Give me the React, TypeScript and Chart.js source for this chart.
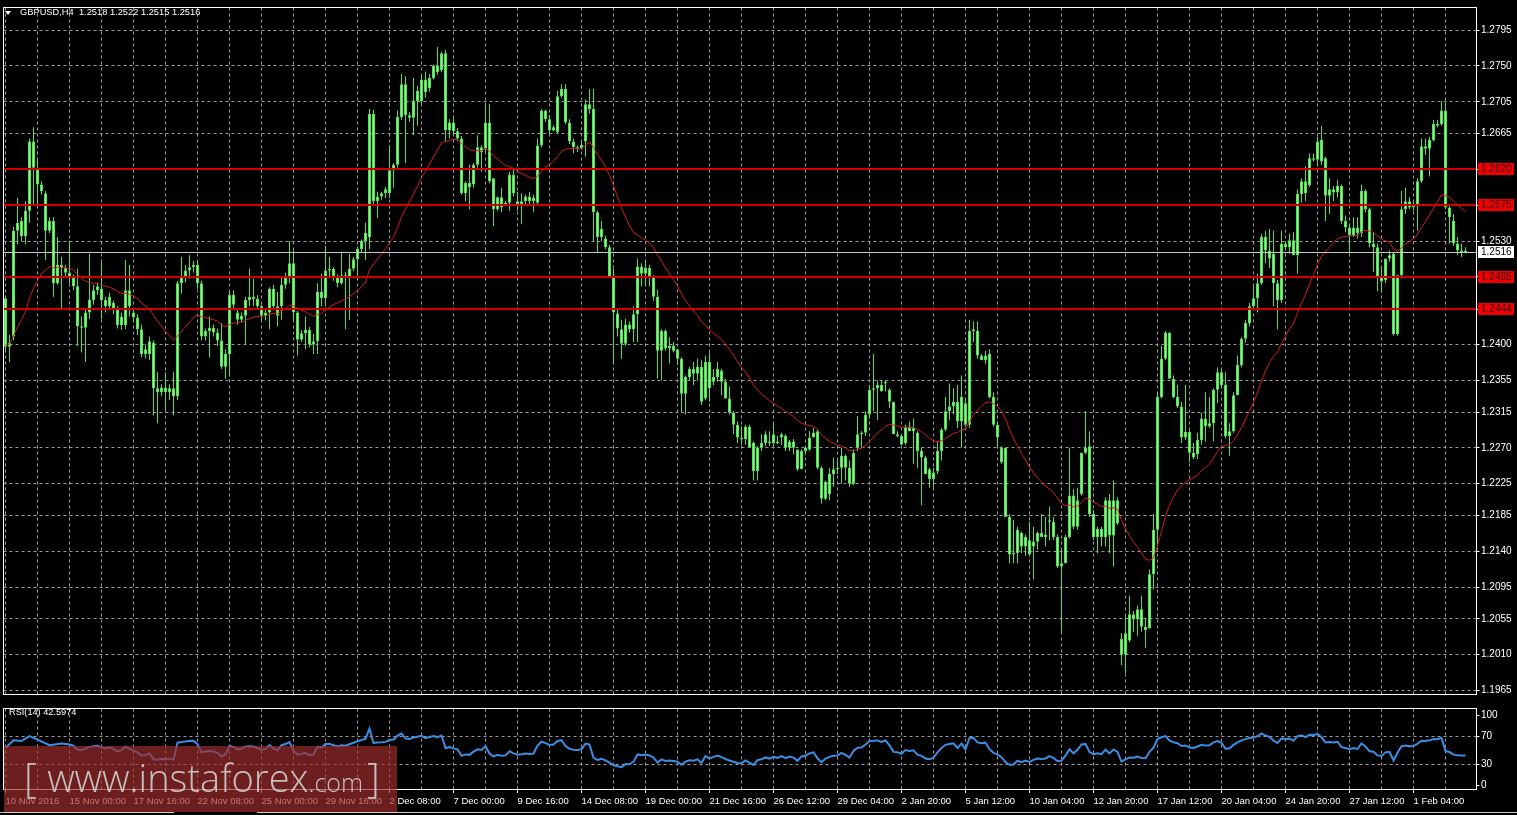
import React, { useEffect, useRef } from 'react';
import { Chart, registerables } from 'chart.js';

Chart.register(...registerables);

// ---------- data (prices in 1/10000, e.g. 12516 = 1.2516) ----------
const timeLabels = [
  '10 Nov 2016', '15 Nov 00:00', '17 Nov 16:00', '22 Nov 08:00', '25 Nov 00:00', '29 Nov 16:00',
  '2 Dec 08:00', '7 Dec 00:00', '9 Dec 16:00', '14 Dec 08:00', '19 Dec 00:00', '21 Dec 16:00',
  '26 Dec 12:00', '29 Dec 04:00', '2 Jan 20:00', '5 Jan 12:00', '10 Jan 04:00', '12 Jan 20:00',
  '17 Jan 12:00', '20 Jan 04:00', '24 Jan 20:00', '27 Jan 12:00', '1 Feb 04:00',
];

const opens = [
  12458,12397,12410,12543,12555,12536,12568,12655,12622,12601,
  12590,12543,12555,12477,12500,12496,12490,12484,12473,12423,
  12421,12440,12456,12468,12470,12456,12448,12452,12445,12424,
  12424,12468,12440,12434,12419,12388,12388,12402,12345,12340,
  12346,12340,12345,12335,12477,12485,12493,12497,12500,12477,
  12410,12417,12421,12415,12405,12372,12388,12462,12440,12431,
  12436,12456,12460,12457,12448,12436,12440,12470,12448,12448,
  12475,12485,12502,12440,12406,12414,12418,12400,12404,12466,
  12458,12493,12495,12485,12477,12487,12484,12495,12507,12520,
  12530,12535,12690,12580,12586,12590,12590,12619,12626,12686,
  12727,12688,12685,12706,12706,12733,12722,12735,12750,12745,
  12766,12669,12679,12668,12659,12590,12603,12601,12626,12648,
  12646,12679,12609,12570,12585,12578,12578,12613,12580,12576,
  12580,12586,12580,12578,12650,12694,12683,12669,12667,12712,
  12721,12679,12655,12648,12646,12655,12702,12696,12566,12535,
  12533,12522,12485,12439,12419,12401,12425,12419,12438,12498,
  12489,12496,12485,12460,12392,12417,12395,12398,12394,12382,
  12338,12359,12369,12363,12372,12332,12378,12353,12359,12367,
  12353,12332,12314,12299,12283,12281,12297,12276,12241,12270,
  12276,12278,12276,12278,12283,12285,12270,12278,12268,12243,
  12266,12268,12283,12291,12245,12206,12212,12237,12243,12245,
  12260,12245,12225,12270,12287,12289,12312,12343,12345,12349,
  12351,12343,12328,12287,12285,12276,12297,12291,12289,12266,
  12258,12243,12231,12241,12266,12293,12316,12322,12328,12303,
  12326,12299,12417,12417,12386,12380,12388,12334,12299,12270,
  12270,12183,12136,12138,12163,12146,12154,12146,12152,12163,
  12158,12179,12177,12158,12121,12125,12158,12210,12171,12212,
  12264,12272,12187,12158,12168,12158,12204,12160,12204,12030,
  12010,12028,12061,12055,12067,12045,12043,12111,12167,12334,
  12382,12415,12357,12334,12322,12283,12290,12264,12262,12280,
  12307,12297,12301,12343,12365,12349,12285,12291,12336,12374,
  12407,12427,12448,12458,12477,12535,12518,12514,12477,12456,
  12527,12522,12531,12512,12589,12605,12600,12634,12632,12657,
  12634,12587,12595,12591,12599,12555,12547,12537,12547,12540,
  12593,12570,12527,12522,12485,12481,12508,12514,12413,12487,
  12570,12580,12572,12574,12605,12649,12646,12657,12677,12677,
  12694,12572,12555,12527,12518,12518,
];

const highs = [
  12460,12412,12548,12584,12560,12580,12659,12673,12634,12605,
  12593,12560,12560,12535,12510,12500,12530,12488,12495,12435,
  12444,12514,12475,12478,12504,12460,12465,12455,12448,12440,
  12506,12500,12445,12438,12425,12400,12410,12405,12365,12350,
  12365,12350,12365,12480,12510,12500,12512,12505,12506,12480,
  12420,12435,12425,12420,12427,12394,12466,12468,12445,12440,
  12460,12495,12483,12462,12450,12445,12472,12475,12466,12485,
  12490,12530,12518,12442,12418,12435,12422,12413,12477,12489,
  12524,12510,12497,12488,12516,12491,12514,12510,12523,12532,
  12553,12696,12695,12592,12592,12598,12650,12628,12694,12740,
  12737,12692,12735,12725,12738,12743,12740,12752,12774,12768,
  12770,12683,12684,12672,12662,12605,12626,12628,12663,12650,
  12704,12702,12609,12586,12597,12580,12617,12622,12592,12590,
  12588,12592,12588,12659,12696,12695,12688,12675,12719,12727,
  12727,12683,12659,12650,12655,12708,12721,12721,12568,12555,
  12537,12525,12495,12445,12431,12432,12429,12448,12508,12502,
  12506,12500,12487,12469,12419,12419,12409,12403,12394,12384,
  12361,12372,12378,12382,12380,12386,12390,12369,12378,12369,
  12357,12347,12316,12303,12297,12299,12299,12278,12272,12287,
  12291,12291,12303,12285,12289,12287,12280,12281,12268,12268,
  12272,12291,12295,12293,12247,12229,12245,12258,12254,12270,
  12262,12254,12268,12310,12291,12316,12349,12388,12355,12355,
  12355,12345,12328,12291,12285,12299,12303,12307,12291,12270,
  12260,12245,12245,12278,12295,12334,12351,12345,12349,12361,
  12332,12431,12429,12429,12388,12392,12394,12340,12303,12272,
  12270,12187,12179,12171,12165,12161,12177,12171,12165,12187,
  12183,12196,12183,12161,12142,12161,12270,12218,12220,12264,
  12316,12291,12192,12171,12171,12208,12212,12229,12208,12037,
  12059,12084,12065,12072,12084,12055,12117,12187,12340,12398,
  12417,12415,12361,12349,12328,12349,12292,12276,12289,12314,
  12340,12334,12345,12371,12369,12365,12301,12340,12386,12409,
  12431,12452,12473,12489,12539,12543,12545,12543,12481,12543,
  12529,12539,12541,12595,12609,12624,12640,12640,12661,12675,
  12636,12609,12599,12607,12601,12562,12549,12560,12560,12601,
  12595,12572,12541,12527,12496,12508,12518,12516,12487,12593,
  12597,12585,12580,12609,12659,12659,12661,12682,12682,12706,
  12704,12574,12564,12535,12527,12522,
];

const lows = [
  12392,12378,12405,12526,12530,12526,12553,12576,12576,12588,
  12506,12540,12460,12475,12444,12485,12477,12468,12398,12390,
  12378,12432,12450,12462,12432,12440,12444,12438,12420,12418,
  12419,12435,12428,12412,12384,12382,12380,12311,12301,12335,
  12318,12330,12311,12330,12464,12478,12483,12490,12470,12405,
  12405,12384,12410,12398,12369,12357,12360,12445,12425,12428,
  12400,12448,12448,12444,12430,12430,12419,12445,12423,12431,
  12470,12477,12431,12386,12403,12394,12396,12388,12388,12448,
  12448,12485,12480,12472,12475,12419,12431,12492,12485,12515,
  12506,12520,12575,12559,12582,12584,12584,12597,12622,12682,
  12628,12680,12663,12675,12702,12710,12718,12733,12739,12742,
  12655,12659,12664,12656,12588,12580,12570,12597,12622,12617,
  12642,12603,12549,12568,12566,12574,12568,12586,12568,12551,
  12576,12576,12566,12576,12648,12680,12665,12668,12665,12710,
  12677,12652,12640,12642,12645,12636,12690,12530,12516,12530,
  12520,12485,12375,12410,12382,12398,12415,12403,12403,12473,
  12473,12473,12455,12357,12355,12392,12376,12390,12374,12314,
  12312,12355,12349,12355,12324,12330,12328,12349,12353,12336,
  12332,12312,12287,12276,12274,12274,12270,12229,12229,12266,
  12272,12272,12272,12275,12274,12266,12266,12262,12241,12243,
  12262,12266,12283,12243,12200,12204,12204,12221,12237,12225,
  12229,12221,12223,12266,12270,12285,12307,12316,12305,12341,
  12341,12320,12287,12283,12274,12274,12291,12250,12245,12198,
  12237,12220,12220,12237,12254,12291,12305,12312,12295,12270,
  12297,12295,12403,12382,12380,12375,12332,12297,12270,12250,
  12183,12125,12125,12125,12138,12134,12136,12105,12142,12158,
  12146,12154,12154,12119,12039,12125,12156,12168,12167,12210,
  12262,12183,12154,12138,12146,12146,12138,12121,12173,11997,
  11987,12026,12039,12034,12039,12018,12043,12092,12146,12332,
  12380,12357,12332,12320,12276,12280,12252,12256,12256,12274,
  12278,12295,12278,12326,12345,12282,12260,12289,12336,12371,
  12402,12423,12444,12440,12475,12502,12496,12448,12419,12452,
  12518,12514,12512,12489,12578,12580,12598,12630,12626,12626,
  12555,12564,12580,12585,12551,12541,12516,12535,12533,12535,
  12566,12522,12491,12467,12465,12477,12504,12411,12411,12483,
  12564,12570,12568,12543,12603,12638,12611,12655,12673,12675,
  12570,12527,12524,12512,12510,12515,
];

const closes = [
  12397,12402,12543,12553,12536,12568,12655,12622,12601,12593,
  12543,12555,12477,12500,12496,12490,12484,12473,12423,12421,
  12440,12456,12468,12473,12456,12448,12460,12445,12424,12435,
  12468,12448,12434,12419,12388,12394,12404,12345,12340,12346,
  12340,12345,12335,12477,12485,12493,12497,12500,12477,12410,
  12417,12421,12415,12405,12372,12388,12462,12450,12431,12436,
  12456,12460,12457,12448,12436,12440,12470,12448,12436,12475,
  12485,12502,12440,12406,12414,12418,12400,12404,12466,12458,
  12493,12495,12485,12477,12487,12484,12495,12507,12520,12530,
  12540,12690,12580,12586,12590,12595,12619,12626,12686,12727,
  12688,12685,12706,12719,12733,12717,12735,12750,12742,12766,
  12669,12679,12668,12659,12590,12603,12598,12626,12648,12642,
  12679,12605,12570,12585,12572,12576,12613,12590,12576,12580,
  12586,12580,12584,12650,12694,12683,12669,12673,12712,12721,
  12679,12655,12648,12646,12651,12702,12696,12566,12535,12545,
  12522,12485,12440,12420,12401,12425,12419,12438,12498,12489,
  12496,12485,12460,12392,12417,12395,12398,12392,12382,12338,
  12359,12369,12363,12372,12328,12378,12345,12359,12369,12353,
  12332,12314,12299,12283,12281,12297,12270,12241,12270,12276,
  12287,12276,12287,12276,12287,12270,12278,12270,12243,12266,
  12270,12283,12289,12245,12206,12227,12237,12243,12245,12260,
  12245,12225,12264,12287,12289,12312,12343,12345,12349,12341,
  12353,12328,12287,12285,12274,12297,12291,12295,12266,12258,
  12237,12231,12239,12266,12293,12316,12322,12328,12303,12334,
  12299,12417,12419,12386,12380,12386,12334,12299,12283,12252,
  12183,12136,12138,12167,12146,12158,12136,12152,12163,12158,
  12161,12177,12158,12121,12125,12158,12210,12171,12204,12264,
  12270,12187,12158,12168,12158,12204,12160,12204,12175,12010,
  12037,12061,12055,12067,12045,12041,12111,12167,12334,12382,
  12415,12357,12334,12322,12283,12290,12264,12258,12280,12307,
  12297,12301,12343,12365,12349,12285,12291,12336,12374,12407,
  12427,12448,12458,12477,12535,12518,12508,12477,12456,12527,
  12522,12531,12512,12589,12605,12590,12634,12632,12655,12630,
  12587,12595,12591,12599,12555,12547,12537,12547,12540,12593,
  12570,12527,12522,12485,12479,12508,12512,12413,12487,12570,
  12580,12572,12574,12605,12649,12646,12657,12677,12675,12694,
  12572,12560,12527,12518,12516,12516,
];

// moving average: exponential MA of closes, started from the value read at the first bar
const MA_PERIOD = 25;
const maStart = 12400;

// RSI(14): for the warm-up bars, then computed from closes
const RSI_PERIOD = 14;
const rsiLeadBars = [0, 2, 4, 6, 8, 11];
const rsiLeadValues = [53, 64, 63, 70, 65, 57];

const priceTicks = [11965, 12010, 12055, 12095, 12140, 12185, 12225, 12270, 12315, 12355, 12400, 12444, 12485, 12530, 12575, 12620, 12665, 12705, 12750, 12795];
const levelLines = [12620, 12575, 12485, 12444];
const bidPrice = 12516;
const rsiTicks = [0, 30, 70, 100];
const rsiLevels = [30, 70];

const titleText = 'GBPUSD,H4  1.2518 1.2522 1.2515 1.2516';
const rsiTitle = 'RSI(14) 42.5974';

// ---------- styling ----------
const FONT = "'Liberation Sans', Arial, sans-serif";
const GRID = '#9a9a9a';
const WICK = '#4fe24f';
const BODY_EDGE = '#4fe24f';
const BODY_FILL = '#8ff38f';
const MA_COLOR = '#d41c1c';
const LEVEL_COLOR = 'rgb(212, 0, 0)';
const LEVEL_BOX = '#ee0000';
const RSI_COLOR = '#3c8ee2';
const RIGHT_SHIFT = 2;
const AXIS_W = 41.5;

const fmt = (v: number) => (v / 10000).toFixed(4);

function movingAverage(): number[] {
  const k = 2 / (MA_PERIOD + 1);
  const out: number[] = [];
  let e = maStart;
  closes.forEach((c, i) => {
    if (i > 0) e = e + k * (c - e);
    out.push(e);
  });
  return out;
}

function rsiSeries(): (number | null)[] {
  const out: (number | null)[] = closes.map((_, i) => {
    const j = rsiLeadBars.indexOf(i);
    return j >= 0 ? rsiLeadValues[j] : null;
  });
  let g = 0;
  let l = 0;
  for (let i = 1; i <= RSI_PERIOD; i++) {
    const d = closes[i] - closes[i - 1];
    g += Math.max(d, 0);
    l += Math.max(-d, 0);
  }
  g /= RSI_PERIOD;
  l /= RSI_PERIOD;
  out[RSI_PERIOD] = l === 0 ? 100 : 100 - 100 / (1 + g / l);
  for (let i = RSI_PERIOD + 1; i < closes.length; i++) {
    const d = closes[i] - closes[i - 1];
    g = (g * (RSI_PERIOD - 1) + Math.max(d, 0)) / RSI_PERIOD;
    l = (l * (RSI_PERIOD - 1) + Math.max(-d, 0)) / RSI_PERIOD;
    out[i] = l === 0 ? 100 : 100 - 100 / (1 + g / l);
  }
  return out;
}

const slots = Array.from({ length: closes.length + RIGHT_SHIFT }, (_, i) => i);

function xScale(showLabels: boolean) {
  return {
    type: 'category',
    offset: true,
    grid: {
      offset: false,
      color: (c: any) => (c.index % 8 === 0 ? GRID : 'rgba(0,0,0,0)'),
      lineWidth: 1,
      drawTicks: showLabels,
      tickLength: 4,
      tickColor: (c: any) => (c.index % 16 === 0 ? '#ffffff' : 'rgba(0,0,0,0)'),
    },
    border: { display: false, dash: [3, 3] },
    ticks: {
      display: showLabels,
      autoSkip: false,
      maxRotation: 0,
      minRotation: 0,
      align: 'start',
      color: '#ffffff',
      padding: 3,
      font: { family: FONT, size: 9.5 },
      callback: (_v: any, i: number) => (i % 16 === 0 && i / 16 < timeLabels.length ? timeLabels[i / 16] : ''),
    },
    afterFit: (s: any) => {
      s.height = showLabels ? 26 : 0;
    },
  };
}

function drawFrame(ctx: CanvasRenderingContext2D, a: any) {
  ctx.save();
  ctx.setLineDash([]);
  ctx.strokeStyle = '#ffffff';
  ctx.lineWidth = 1;
  const l = 3.5;
  const r = 1476.5;
  const t = Math.floor(a.top) + 0.5;
  const b = Math.floor(a.bottom) + 0.5;
  ctx.strokeRect(l, t, r - l, b - t);
  ctx.restore();
}

const mainOverlay = {
  id: 'mainOverlay',
  afterDatasetsDraw(chart: any) {
    const { ctx, chartArea: a, scales } = chart;
    const y = scales.y;
    ctx.save();
    ctx.setLineDash([]);
    ctx.globalAlpha = 1;
    ctx.globalCompositeOperation = 'source-over';
    ctx.lineWidth = 1;
    ctx.strokeStyle = '#c8c8c8';
    const by = Math.round(y.getPixelForValue(bidPrice)) + 0.5;
    ctx.beginPath();
    ctx.moveTo(a.left, by);
    ctx.lineTo(1476, by);
    ctx.stroke();
    ctx.fillStyle = LEVEL_COLOR;
    levelLines.forEach((v) => {
      const py = Math.round(y.getPixelForValue(v));
      ctx.fillRect(4, py - 1, 1472, 2);
    });
    ctx.restore();
  },
  afterDraw(chart: any) {
    const { ctx, chartArea: a, scales } = chart;
    const y = scales.y;
    drawFrame(ctx, a);
    ctx.save();
    ctx.font = `10px ${FONT}`;
    ctx.textBaseline = 'middle';
    ctx.textAlign = 'left';
    levelLines.forEach((v) => {
      const py = Math.round(y.getPixelForValue(v));
      ctx.fillStyle = LEVEL_BOX;
      ctx.fillRect(1478, py - 6, 36, 12);
      ctx.fillStyle = '#3a0000';
      ctx.fillText(fmt(v), 1481, py + 0.5);
    });
    const by = Math.round(y.getPixelForValue(bidPrice));
    ctx.fillStyle = '#ffffff';
    ctx.fillRect(1478, by - 6, 36, 12);
    ctx.fillStyle = '#000000';
    ctx.fillText(fmt(bidPrice), 1481, by + 0.5);
    ctx.restore();
  },
};

const rsiOverlay = {
  id: 'rsiOverlay',
  afterDraw(chart: any) {
    const { ctx, chartArea: a } = chart;
    drawFrame(ctx, a);
    ctx.save();
    ctx.setLineDash([]);
    ctx.strokeStyle = '#cfcfcf';
    ctx.lineWidth = 1;
    ctx.beginPath();
    ctx.moveTo(0, 111.5);
    ctx.lineTo(174, 111.5);
    ctx.moveTo(257, 111.5);
    ctx.lineTo(1517, 111.5);
    ctx.stroke();
    ctx.restore();
  },
};

export default function App() {
  const mainRef = useRef<HTMLCanvasElement>(null);
  const rsiRef = useRef<HTMLCanvasElement>(null);

  useEffect(() => {
    const wicks = highs.map((h, i) => [lows[i], h]);
    const bodies = opens.map((o, i) => [Math.min(o, closes[i]), Math.max(o, closes[i])]);

    const main = new Chart(mainRef.current as HTMLCanvasElement, {
      type: 'bar',
      data: {
        labels: slots,
        datasets: [
          {
            type: 'line',
            data: movingAverage(),
            borderColor: MA_COLOR,
            borderWidth: 1,
            pointRadius: 0,
            tension: 0,
            order: 0,
          } as any,
          {
            type: 'bar',
            data: bodies,
            backgroundColor: BODY_FILL,
            borderColor: BODY_EDGE,
            borderWidth: 1,
            borderSkipped: false,
            barThickness: 3,
            minBarLength: 1,
            grouped: false,
            inflateAmount: 0,
            order: 1,
          } as any,
          {
            type: 'bar',
            data: wicks,
            backgroundColor: WICK,
            borderWidth: 0,
            barThickness: 1,
            grouped: false,
            inflateAmount: 0,
            order: 2,
          } as any,
        ],
      },
      options: {
        responsive: false,
        animation: false,
        devicePixelRatio: 1,
        events: [],
        layout: { padding: { left: 3.5, top: 4, right: 0, bottom: 1 } },
        plugins: { legend: { display: false }, tooltip: { enabled: false } },
        scales: {
          x: xScale(false) as any,
          y: {
            position: 'right',
            min: 11960,
            max: 12823.5,
            afterBuildTicks: (s: any) => {
              s.ticks = priceTicks.map((v) => ({ value: v }));
            },
            afterFit: (s: any) => {
              s.width = AXIS_W;
            },
            grid: { color: GRID, lineWidth: 1, drawTicks: true, tickLength: 4, tickColor: '#ffffff' },
            border: { display: false, dash: [3, 3] },
            ticks: {
              color: '#ffffff',
              padding: 1.5,
              font: { family: FONT, size: 10 },
              callback: (v: any) => (levelLines.includes(v) ? '' : fmt(v)),
            },
          } as any,
        },
      },
      plugins: [mainOverlay],
    });

    const rsi = new Chart(rsiRef.current as HTMLCanvasElement, {
      type: 'line',
      data: {
        labels: slots,
        datasets: [
          {
            data: rsiSeries(),
            borderColor: RSI_COLOR,
            borderWidth: 2,
            pointRadius: 0,
            spanGaps: true,
            tension: 0,
          } as any,
        ],
      },
      options: {
        responsive: false,
        animation: false,
        devicePixelRatio: 1,
        events: [],
        layout: { padding: { left: 3.5, top: 2, right: 0, bottom: 0 } },
        plugins: { legend: { display: false }, tooltip: { enabled: false } },
        scales: {
          x: xScale(true) as any,
          y: {
            position: 'right',
            min: -5.33,
            max: 109.33,
            afterBuildTicks: (s: any) => {
              s.ticks = rsiTicks.map((v) => ({ value: v }));
            },
            afterFit: (s: any) => {
              s.width = AXIS_W;
            },
            grid: {
              color: (c: any) => (c.tick && rsiLevels.includes(c.tick.value) ? GRID : 'rgba(0,0,0,0)'),
              lineWidth: 1,
              drawTicks: true,
              tickLength: 4,
              tickColor: '#ffffff',
            },
            border: { display: false, dash: [3, 3] },
            ticks: {
              color: '#ffffff',
              padding: 1.5,
              font: { family: FONT, size: 10 },
              callback: (v: any) => String(v),
            },
          } as any,
        },
      },
      plugins: [rsiOverlay],
    });

    return () => {
      main.destroy();
      rsi.destroy();
    };
  }, []);

  return (
    <div style={{ position: 'fixed', left: 0, top: 0, width: 1517, height: 815, background: '#000', overflow: 'hidden' }}>
      <canvas ref={mainRef} width={1517} height={702} style={{ position: 'absolute', left: 0, top: 0 }} />
      <canvas ref={rsiRef} width={1517} height={114} style={{ position: 'absolute', left: 0, top: 701 }} />
      <div
        style={{
          position: 'absolute',
          left: 5,
          top: 11,
          width: 0,
          height: 0,
          borderLeft: '3px solid transparent',
          borderRight: '3px solid transparent',
          borderTop: '4px solid #ffffff',
        }}
      />
      <div
        style={{
          position: 'absolute',
          left: 20,
          top: 7,
          color: '#ffffff',
          font: `9.3px ${FONT}`,
          lineHeight: '10px',
          whiteSpace: 'pre',
        }}
      >
        {titleText}
      </div>
      <div
        style={{
          position: 'absolute',
          left: 9,
          top: 707,
          color: '#ffffff',
          font: `9.2px ${FONT}`,
          lineHeight: '10px',
          whiteSpace: 'pre',
        }}
      >
        {rsiTitle}
      </div>
      <div
        style={{
          position: 'absolute',
          left: 4,
          top: 746,
          width: 393,
          height: 66,
          background: 'rgba(160,44,44,0.68)',
          overflow: 'hidden',
        }}
      >
        <div
          style={{
            position: 'absolute',
            left: 20,
            top: 6,
            whiteSpace: 'pre',
            color: 'rgba(212,212,212,0.88)',
            fontFamily: "'Open Sans', 'Noto Sans', sans-serif",
            fontWeight: 300,
            lineHeight: '50px',
          }}
        >
          <span style={{ fontSize: 40 }}>[ </span>
          <span style={{ fontSize: 38 }}>www.instaforex</span>
          <span style={{ fontSize: 25 }}>.com</span>
          <span style={{ fontSize: 40, marginLeft: 4 }}>]</span>
        </div>
      </div>
    </div>
  );
}
